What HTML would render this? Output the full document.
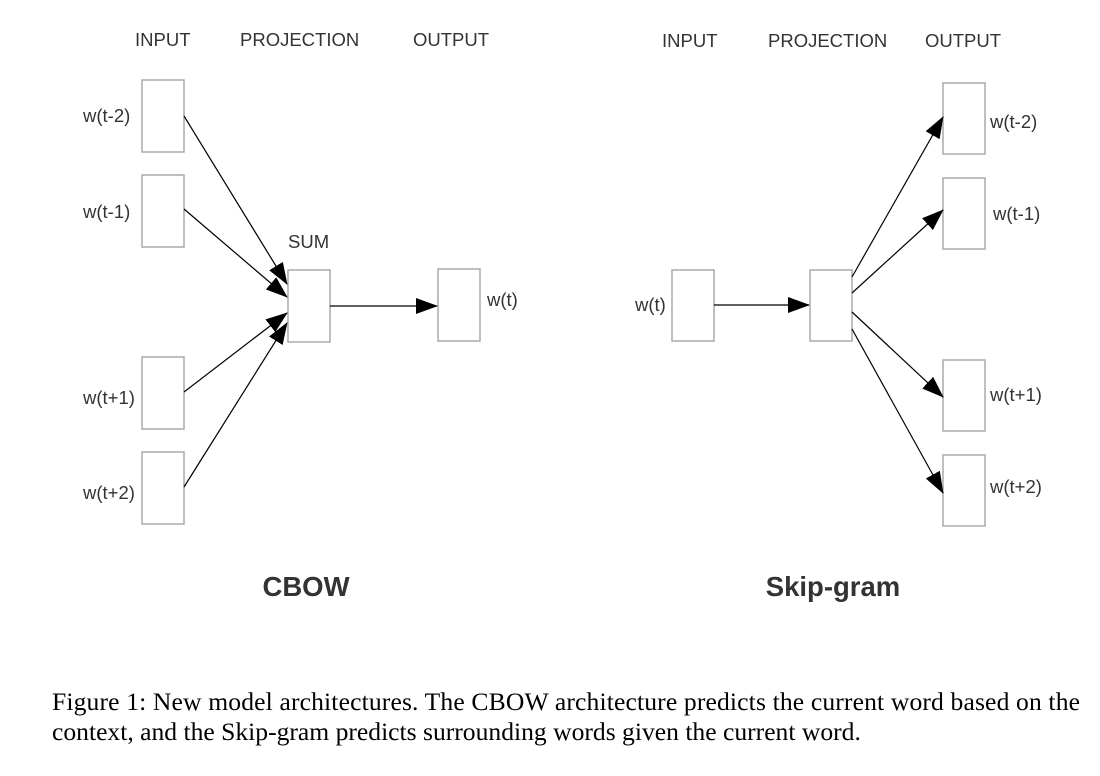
<!DOCTYPE html>
<html><head><meta charset="utf-8"><style>
html,body{margin:0;padding:0;background:#fff;width:1100px;height:776px;overflow:hidden}
</style></head><body>
<svg width="1100" height="776" xmlns="http://www.w3.org/2000/svg">
<defs><marker id="a" markerWidth="22" markerHeight="16" refX="21" refY="8" orient="auto" markerUnits="userSpaceOnUse"><path d="M0,0 L22,8 L0,16 z" fill="#000"/></marker></defs>
<g font-family="Liberation Sans, sans-serif" font-size="18.5" fill="#333">
<text x="135" y="46">INPUT</text><text x="240" y="46">PROJECTION</text><text x="413" y="46">OUTPUT</text>
<text x="662" y="47">INPUT</text><text x="768" y="47">PROJECTION</text><text x="925" y="47">OUTPUT</text>
<text x="83" y="122">w(t-2)</text><text x="83" y="218">w(t-1)</text><text x="83" y="404">w(t+1)</text><text x="83" y="499">w(t+2)</text>
<text x="288" y="248">SUM</text><text x="487" y="306">w(t)</text>
<text x="635" y="311">w(t)</text>
<text x="990" y="128">w(t-2)</text><text x="993" y="220">w(t-1)</text><text x="990" y="401">w(t+1)</text><text x="990" y="493">w(t+2)</text>
</g>
<g fill="#fff" stroke="#aaa" stroke-width="1.5">
<rect x="142" y="80" width="42" height="72"/><rect x="142" y="175" width="42" height="72"/>
<rect x="142" y="357" width="42" height="72"/><rect x="142" y="452" width="42" height="72"/>
<rect x="288" y="270" width="42" height="72"/><rect x="438" y="269" width="42" height="72"/>
<rect x="672" y="270" width="42" height="71"/><rect x="810" y="270" width="42" height="71"/>
<rect x="943" y="83" width="42" height="71"/><rect x="943" y="178" width="42" height="71"/>
<rect x="943" y="360" width="42" height="71"/><rect x="943" y="455" width="42" height="71"/>
</g>
<g stroke="#000" stroke-width="1.2" marker-end="url(#a)">
<line x1="184" y1="116" x2="287" y2="284"/><line x1="184" y1="209" x2="287" y2="297"/>
<line x1="184" y1="392" x2="287" y2="313"/><line x1="184" y1="487" x2="287" y2="323"/>
<line x1="330" y1="306" x2="437" y2="306"/>
<line x1="714" y1="305" x2="809" y2="305"/>
<line x1="852" y1="277" x2="943" y2="117"/><line x1="852" y1="293" x2="943" y2="210"/>
<line x1="852" y1="312" x2="943" y2="397"/><line x1="852" y1="329" x2="943" y2="493"/>
</g>
<g font-family="Liberation Sans, sans-serif" font-size="27.5" font-weight="bold" fill="#333" text-anchor="middle">
<text x="306" y="596">CBOW</text><text x="833" y="596">Skip-gram</text>
</g>
<g font-family="Liberation Serif, serif" font-size="25.6" fill="#000">
<text x="52" y="710" textLength="1028" lengthAdjust="spacing">Figure 1: New model architectures. The CBOW architecture predicts the current word based on the</text>
<text x="52" y="740">context, and the Skip-gram predicts surrounding words given the current word.</text>
</g>
</svg>
</body></html>
